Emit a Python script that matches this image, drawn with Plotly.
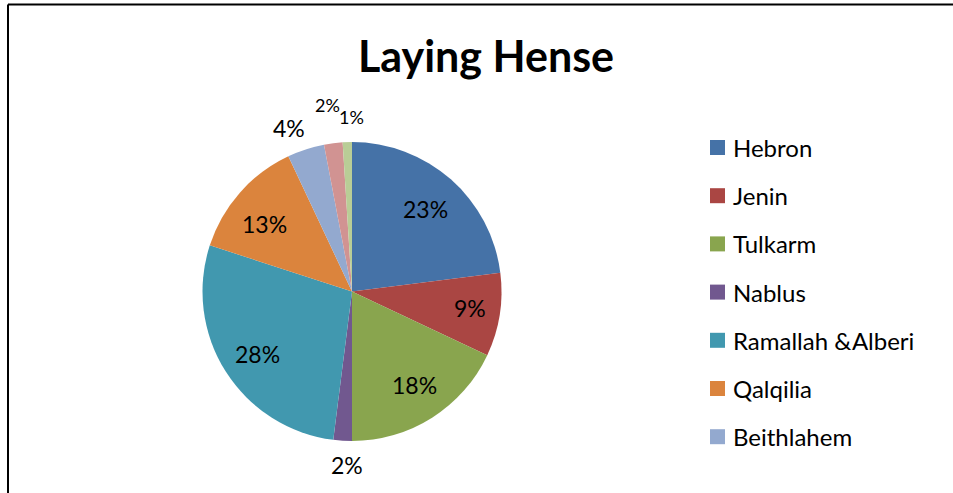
import math
import plotly.graph_objects as go

# ---- data ----
labels = ["Hebron", "Jenin", "Tulkarm", "Nablus", "Ramallah &Alberi",
          "Qalqilia", "Beithlahem", "Jericho", "Tubas"]
values = [23, 9, 18, 2, 28, 13, 4, 2, 1]
colors = ["#4572A7", "#AA4643", "#89A54E", "#71588F", "#4198AF",
          "#DB843D", "#93A9CF", "#D19392", "#B9CD96"]
legend_count = 7  # legend in the reference is clipped after 7 entries
title_text = "Laying Hense"

# ---- style: label placement (radius factor, angular nudge in degrees, font size) ----
label_radius = [0.74, 0.80, 0.75, 1.16, 0.76, 0.74, 1.17, 1.26, 1.167]
label_nudge = [0.3, -1, -1.4, -2, -1.2, -4, -3, -0.4, 1.8]
label_size = [23, 23, 23, 23, 23, 23, 23, 18, 18]

FONT = "Lato"
W, H = 953, 493
CX, CY, R = 352.0, 291.5, 149.5

fig = go.Figure()
fig.add_trace(go.Pie(
    labels=labels, values=values, sort=False, direction="clockwise",
    rotation=0,
    marker=dict(colors=colors, line=dict(width=0)),
    textinfo="none",
    domain=dict(x=[(CX - R) / W, (CX + R) / W], y=[1 - (CY + R) / H, 1 - (CY - R) / H]),
    showlegend=False,
    hoverinfo="label+percent",
))

shapes = []
annotations = []

# percentage labels placed around the pie from the data
total = sum(values)
cum = 0
for i, v in enumerate(values):
    mid = (cum + v / 2) / total
    cum += v
    th = math.radians(360 * mid + label_nudge[i])
    d = R * label_radius[i]
    px = CX + d * math.sin(th)
    py = CY - d * math.cos(th)
    annotations.append(dict(xref="paper", yref="paper", x=px / W, y=1 - py / H,
                            text=f"{round(100 * v / total)}%", showarrow=False,
                            xanchor="center", yanchor="middle",
                            font=dict(family=FONT, size=label_size[i], color="black")))

# manual legend
row0 = 147.5
gap = 48.2
for i in range(legend_count):
    yc = row0 + i * gap
    shapes.append(dict(type="rect", xref="paper", yref="paper",
                       x0=710 / W, x1=725 / W,
                       y0=1 - (yc + 7.5) / H, y1=1 - (yc - 7.5) / H,
                       fillcolor=colors[i], line=dict(width=0)))
    annotations.append(dict(xref="paper", yref="paper", x=731 / W, y=1 - yc / H,
                            text=labels[i], showarrow=False, xanchor="left",
                            yanchor="middle",
                            font=dict(family=FONT, size=24, color="black")))

# chart border (top and left edges visible)
shapes.append(dict(type="line", xref="paper", yref="paper",
                   x0=8 / W, x1=1.01, y0=1 - 4.5 / H, y1=1 - 4.5 / H,
                   line=dict(color="black", width=2)))
shapes.append(dict(type="line", xref="paper", yref="paper",
                   x0=8 / W, x1=8 / W, y0=1 - 4.5 / H, y1=-0.01,
                   line=dict(color="black", width=2)))

fig.update_layout(
    width=W, height=H,
    margin=dict(l=0, r=0, t=0, b=0),
    paper_bgcolor="white", plot_bgcolor="white",
    title=dict(text="<b>" + title_text + "</b>", x=486 / W, xanchor="center",
               y=1 - 57 / H, yanchor="middle",
               font=dict(family=FONT, size=43, color="black")),
    shapes=shapes, annotations=annotations,
    showlegend=False,
)

fig.write_html("out.html")
